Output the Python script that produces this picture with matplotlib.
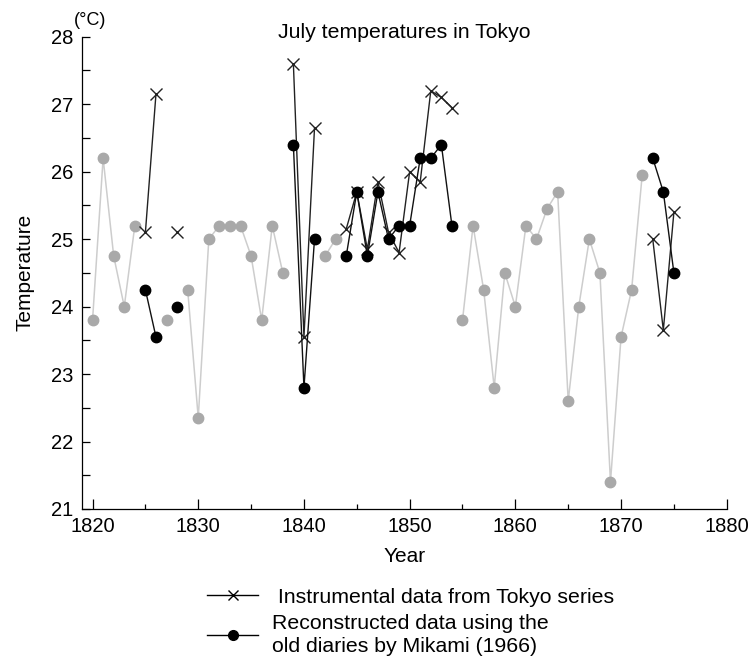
"""July temperatures in Tokyo: instrumental vs reconstructed (Mikami 1966)."""

import numpy as np
import matplotlib

matplotlib.use("Agg")
import matplotlib.pyplot as plt
from matplotlib.lines import Line2D
from matplotlib.ticker import MultipleLocator

plt.rcParams["font.family"] = ["Liberation Sans", "DejaVu Sans"]

nan = np.nan
YEARS = list(range(1820, 1876))

# other years (grey, not in legend); gaps where the diary series exists
OTHER = [23.8, 26.2, 24.75, 24.0, 25.2, nan, nan, 23.8, nan, 24.25,
         22.35, 25.0, 25.2, 25.2, 25.2, 24.75, 23.8, 25.2, 24.5, nan,
         nan, nan, 24.75, 25.0, nan, nan, nan, nan, nan, nan,
         nan, nan, nan, nan, nan, 23.8, 25.2, 24.25, 22.8, 24.5,
         24.0, 25.2, 25.0, 25.45, 25.7, 22.6, 24.0, 25.0, 24.5, 21.4,
         23.55, 24.25, 25.95, nan, nan, nan]

# reconstructed from the old diaries (black dots)
DIARY = [nan, nan, nan, nan, nan, 24.25, 23.55, nan, 24.0, nan,
         nan, nan, nan, nan, nan, nan, nan, nan, nan, 26.4,
         22.8, 25.0, nan, nan, 24.75, 25.7, 24.75, 25.7, 25.0, 25.2,
         25.2, 26.2, 26.2, 26.4, 25.2, nan, nan, nan, nan, nan,
         nan, nan, nan, nan, nan, nan, nan, nan, nan, nan,
         nan, nan, nan, 26.2, 25.7, 24.5]

# instrumental Tokyo series (crosses)
INSTR = [nan, nan, nan, nan, nan, 25.1, 27.15, nan, 25.1, nan,
         nan, nan, nan, nan, nan, nan, nan, nan, nan, 27.6,
         23.55, 26.65, nan, nan, 25.15, 25.7, 24.85, 25.85, 25.1, 24.8,
         26.0, 25.85, 27.2, 27.1, 26.95, nan, nan, nan, nan, nan,
         nan, nan, nan, nan, nan, nan, nan, nan, nan, nan,
         nan, nan, nan, 25.0, 23.65, 25.4]


def main():
    fig = plt.figure(figsize=(7.5, 6.57), dpi=100)
    ax = fig.add_axes([0.1093, 0.2253, 0.8597, 0.7188])

    ax.plot(YEARS, OTHER, "-o", color="#cdcdcd", lw=1.1, ms=7.5,
            mfc="#a9a9a9", mec="#a9a9a9", zorder=2)
    ax.plot(YEARS, INSTR, "-x", color="#222222", lw=1.0, ms=8, mew=1.0, zorder=3)
    ax.plot(YEARS, DIARY, "-o", color="#111111", lw=1.0, ms=7.5,
            mfc="black", mec="black", zorder=4)

    ax.set_xlim(1819, 1880)
    ax.set_ylim(21, 28)
    ax.xaxis.set_major_locator(MultipleLocator(10))
    ax.xaxis.set_minor_locator(MultipleLocator(5))
    ax.yaxis.set_major_locator(MultipleLocator(1))
    ax.yaxis.set_minor_locator(MultipleLocator(0.5))
    ax.tick_params(axis="both", which="both", direction="in", labelsize=14.5,
                   width=0.9, pad=6)
    ax.tick_params(axis="x", which="major", length=7)
    ax.tick_params(axis="x", which="minor", length=3.5)
    ax.tick_params(axis="y", which="both", length=5.5)
    for s in ("top", "right"):
        ax.spines[s].set_visible(False)
    for s in ("left", "bottom"):
        ax.spines[s].set_linewidth(0.9)

    ax.set_xlabel("Year", fontsize=15, labelpad=8)
    ax.set_ylabel("Temperature", fontsize=15, labelpad=12)
    ax.text(0.5, 1.008, "July temperatures in Tokyo", transform=ax.transAxes,
            ha="center", va="center", fontsize=15.3)
    ax.text(-0.012, 1.035, "(°C)", transform=ax.transAxes, ha="left",
            va="center", fontsize=13)

    handles = [
        Line2D([], [], color="black", lw=1.0, marker="x", ms=7, mew=1.0),
        Line2D([], [], color="black", lw=1.0, marker="o", ms=7),
    ]
    labels = [" Instrumental data from Tokyo series",
              "Reconstructed data using the\nold diaries by Mikami (1966)"]
    fig.legend(handles, labels, loc="upper left", bbox_to_anchor=(0.276, 0.1053),
               frameon=False, fontsize=15.3, handlelength=2.42, handletextpad=0.65,
               labelspacing=0.33, borderpad=0, borderaxespad=0)
    for t in fig.legends[0].get_texts():
        t.set_linespacing(1.25)

    fig.savefig("out.png", dpi=100)


if __name__ == "__main__":
    main()
